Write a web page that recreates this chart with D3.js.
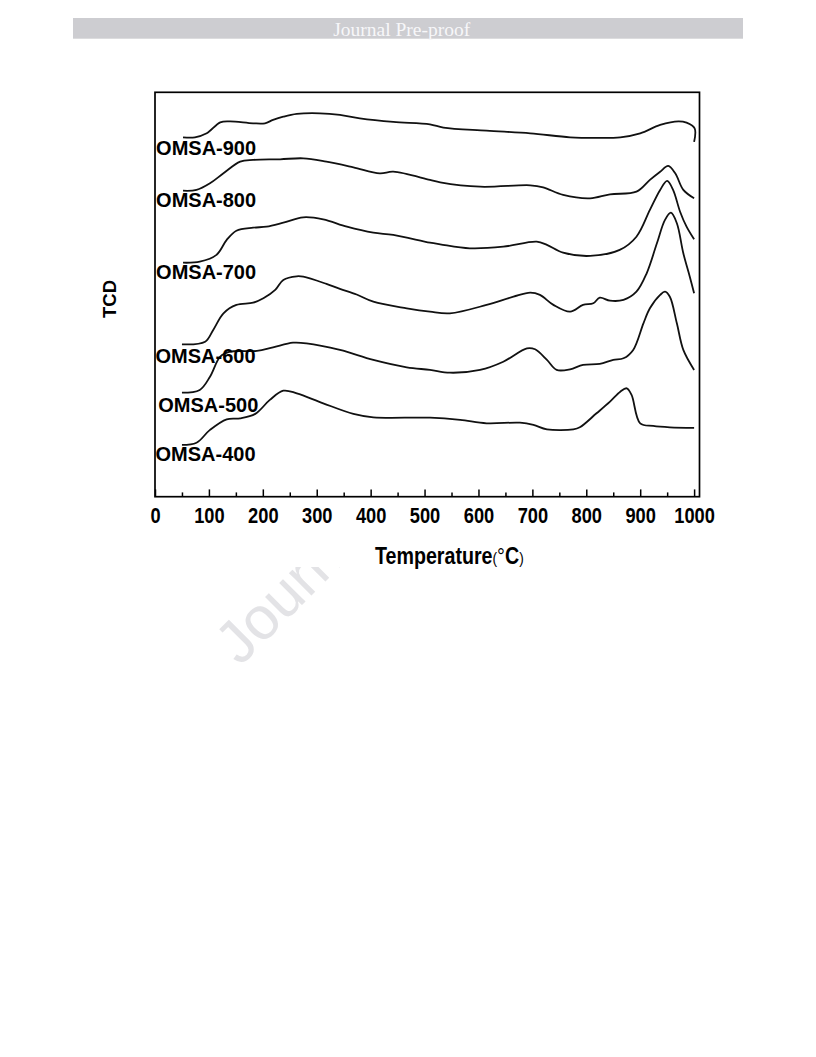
<!DOCTYPE html>
<html>
<head>
<meta charset="utf-8">
<script src="https://cdn.jsdelivr.net/npm/d3@7"></script>
<style>
  html, body { margin: 0; padding: 0; background: #fff; }
  svg { display: block; }
</style>
</head>
<body>
<div id="chart"></div>
<script>
// ---- Data (temperature in °C, TCD signal in arbitrary units incl. vertical offset) ----
const seriesNames = ["OMSA-900", "OMSA-800", "OMSA-700", "OMSA-600", "OMSA-500", "OMSA-400"];

const temp900 = [52, 74, 96, 121, 139, 182, 204, 219, 238, 263, 306, 343, 380, 442, 510, 535, 615, 696, 770, 819, 863, 900, 937, 971, 986, 1001, 1000];
const tcd900  = [179.7, 179.7, 181.7, 187.2, 187.7, 186.7, 186.7, 188.4, 190.0, 191.4, 191.7, 190.9, 189.2, 187.4, 186.2, 184.5, 183.0, 181.7, 179.7, 179.4, 179.7, 181.7, 185.9, 187.7, 187.0, 184.2, 177.4];

const temp800 = [52, 77, 102, 127, 158, 182, 232, 275, 318, 368, 417, 442, 510, 529, 603, 696, 720, 757, 807, 844, 893, 918, 937, 952, 965, 980, 1000];
const tcd800  = [153.0, 153.4, 156.7, 161.7, 167.5, 168.4, 168.7, 169.2, 167.5, 164.7, 161.7, 162.5, 158.4, 157.2, 155.0, 155.7, 154.7, 150.9, 149.2, 151.2, 152.5, 158.4, 162.5, 165.4, 161.7, 153.4, 149.2];

const temp700 = [52, 83, 114, 133, 151, 182, 207, 238, 275, 312, 356, 405, 442, 510, 529, 584, 646, 708, 727, 757, 807, 862, 893, 918, 937, 950, 961, 974, 986, 1000];
const tcd700  = [117.0, 117.5, 120.9, 128.4, 133.0, 134.5, 135.0, 137.0, 139.7, 138.7, 135.0, 132.0, 130.9, 127.0, 126.2, 124.2, 125.0, 127.5, 125.9, 122.0, 120.4, 123.4, 130.0, 143.4, 153.4, 157.9, 153.4, 142.5, 135.0, 128.7];

const temp600 = [50, 93, 108, 127, 151, 182, 201, 223, 238, 263, 275, 318, 343, 374, 405, 467, 510, 547, 615, 665, 696, 714, 739, 770, 794, 813, 825, 844, 869, 893, 912, 931, 946, 957, 968, 980, 992, 1000];
const tcd600  = [76.2, 77.5, 83.4, 91.7, 95.9, 97.0, 99.2, 103.4, 108.4, 110.2, 110.0, 106.4, 103.9, 101.1, 97.5, 94.2, 92.5, 91.7, 95.9, 100.0, 102.0, 100.9, 95.9, 92.5, 95.9, 96.7, 99.5, 98.0, 98.4, 102.5, 111.7, 126.7, 138.4, 142.0, 136.7, 121.7, 110.0, 101.7];

const temp500 = [50, 83, 102, 121, 139, 189, 219, 256, 281, 343, 405, 467, 510, 547, 603, 646, 690, 705, 727, 745, 770, 794, 825, 850, 869, 887, 906, 918, 937, 946, 955, 968, 980, 1000];
const tcd500  = [52.0, 53.4, 60.0, 70.0, 72.5, 72.9, 74.7, 77.0, 76.7, 73.4, 68.4, 64.7, 63.4, 62.0, 63.4, 67.5, 74.2, 73.7, 68.4, 63.4, 63.7, 65.9, 66.4, 68.4, 69.2, 73.4, 86.7, 94.2, 100.9, 102.5, 100.0, 86.7, 73.4, 63.4];

const temp400 = [50, 77, 102, 133, 158, 186, 213, 238, 263, 312, 368, 405, 510, 566, 615, 677, 702, 727, 776, 788, 819, 844, 863, 875, 884, 900, 924, 955, 1000];
const tcd400  = [25.9, 27.0, 33.4, 38.7, 39.2, 41.4, 48.4, 53.0, 51.7, 46.7, 41.4, 39.7, 39.5, 38.4, 36.7, 37.0, 35.9, 33.7, 33.7, 34.7, 41.7, 47.5, 52.5, 54.2, 50.9, 36.7, 35.4, 34.7, 34.4];

const xMajorTicks = [0, 100, 200, 300, 400, 500, 600, 700, 800, 900, 1000];
const xMinorTicks = [50, 150, 250, 350, 450, 550, 650, 750, 850, 950];

const labelTexts = ["OMSA-900", "OMSA-800", "OMSA-700", "OMSA-600", "OMSA-500", "OMSA-400"];
const labelTemps = [2, 2, 2, 1, 6, 1];
const labelTcd   = [171.0, 144.7, 108.7, 66.7, 42.5, 17.8];

const xTitle = "Temperature";
const yTitle = "TCD";
const headerText = "Journal Pre-proof";
const watermarkText = "Journal Pre-proof";

// ---- Layout ----
const W = 816, H = 1057;
const plot = { left: 155, right: 699.5, top: 92.3, bottom: 496.7 };

const svg = d3.select("#chart").append("svg")
  .attr("width", W).attr("height", H)
  .style("font-family", "'Liberation Sans', Arial, sans-serif");

svg.append("rect").attr("width", W).attr("height", H).attr("fill", "#fff");

// Header bar
svg.append("rect").attr("x", 73).attr("y", 18).attr("width", 670).attr("height", 20.7).attr("fill", "#cdcdd1");
svg.append("text").attr("x", 401.7).attr("y", 35.6)
  .attr("text-anchor", "middle")
  .style("font-family", "'Liberation Serif', 'Times New Roman', serif")
  .style("font-size", "19.5px")
  .attr("fill", "#f7f7f9")
  .text(headerText);

// Watermark (behind the figure)
svg.append("text")
  .attr("transform", "translate(240,667) rotate(-45)")
  .style("font-size", "60px")
  .attr("fill", "#e3e3e6")
  .text(watermarkText);

// Figure image area (opaque white)
svg.append("rect").attr("x", 85).attr("y", 50).attr("width", 650).attr("height", 517).attr("fill", "#fff");

// Scales
const x = d3.scaleLinear().domain([0, 1010]).range([plot.left, plot.right]);
const y = d3.scaleLinear().domain([0, 202.2]).range([plot.bottom, plot.top]);

// Axes (ticks point inward)
const gMinor = svg.append("g").attr("transform", `translate(0,${plot.bottom})`)
  .call(d3.axisBottom(x).tickValues(xMinorTicks).tickSize(-4.3).tickSizeOuter(0).tickFormat(""));
gMinor.select(".domain").remove();
gMinor.selectAll("line").attr("stroke", "#000").attr("stroke-width", 1.5);

const gMajor = svg.append("g").attr("transform", `translate(0,${plot.bottom})`)
  .call(d3.axisBottom(x).tickValues(xMajorTicks).tickSize(-7.3).tickSizeOuter(0).tickFormat(d3.format("d")));
gMajor.select(".domain").remove();
gMajor.selectAll("line").attr("stroke", "#000").attr("stroke-width", 1.5);
gMajor.selectAll("text")
  .attr("y", 26).attr("dy", null)
  .attr("transform", "scale(0.83,1)")
  .attr("fill", "#000")
  .style("font-family", "'Liberation Sans', Arial, sans-serif")
  .style("font-size", "22px")
  .style("font-weight", "bold");

// Frame
svg.append("rect")
  .attr("x", plot.left).attr("y", plot.top)
  .attr("width", plot.right - plot.left).attr("height", plot.bottom - plot.top)
  .attr("fill", "none").attr("stroke", "#000").attr("stroke-width", 1.7);

// Curves
const seriesData = [
  [temp900, tcd900], [temp800, tcd800], [temp700, tcd700],
  [temp600, tcd600], [temp500, tcd500], [temp400, tcd400]
];
const line = d3.line()
  .x(d => x(d[0])).y(d => y(d[1]))
  .curve(d3.curveCatmullRom.alpha(0.5));

svg.append("g").selectAll("path")
  .data(seriesData)
  .join("path")
  .attr("d", s => line(s[0].map((t, i) => [t, s[1][i]])))
  .attr("fill", "none")
  .attr("stroke", "#111")
  .attr("stroke-width", 1.8)
  .attr("stroke-linejoin", "round");

// Series labels
svg.append("g").selectAll("text")
  .data(labelTexts)
  .join("text")
  .attr("x", (d, i) => x(labelTemps[i]))
  .attr("y", (d, i) => y(labelTcd[i]))
  .style("font-size", "20px")
  .style("font-weight", "bold")
  .attr("fill", "#000")
  .text(d => d);

// Y title
svg.append("text")
  .attr("transform", "translate(116,299) rotate(-90)")
  .attr("text-anchor", "middle")
  .style("font-size", "18.5px")
  .style("font-weight", "bold")
  .text(yTitle);

// X title
const xt = svg.append("text")
  .attr("transform", "translate(375,564.3) scale(0.855,1)")
  .attr("fill", "#000");
xt.append("tspan").style("font-size", "23px").style("font-weight", "bold").text(xTitle);
xt.append("tspan").style("font-size", "16px").text("(");
xt.append("tspan").style("font-size", "23px").text("°");
xt.append("tspan").style("font-size", "23px").style("font-weight", "bold").text("C");
xt.append("tspan").style("font-size", "16px").text(")");
</script>
</body>
</html>
